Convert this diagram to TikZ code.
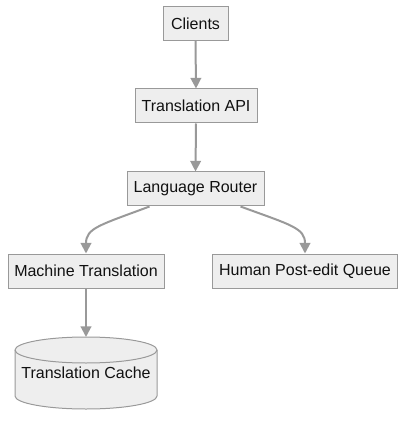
\documentclass[tikz,border=0pt]{standalone}
\usepackage{fontspec}
\setmainfont{Liberation Sans}
\usetikzlibrary{arrows.meta}
\definecolor{boxfill}{HTML}{EEEEEE}
\definecolor{boxline}{HTML}{999999}
\definecolor{edgecol}{HTML}{999999}
\definecolor{txt}{HTML}{111111}
\begin{document}
\begin{tikzpicture}[x=0.75pt,y=-0.75pt,
  box/.style={draw=boxline,fill=boxfill,line width=0.75pt,inner sep=0pt,
    minimum height=25.5pt,font=\fontsize{12}{14}\selectfont,text=txt},
  edge/.style={draw=edgecol,line width=1.5pt,
    -{Triangle[length=8pt,width=8pt]}}]
\useasboundingbox (0,0) rectangle (413,427);
\node[box,minimum width=48.75pt] (clients) at (195.5,23.5) {Clients};
\node[box,minimum width=91.5pt] (api) at (196,106) {Translation API};
\node[box,minimum width=102.75pt] (router) at (195.5,189) {Language Router};
\node[box,minimum width=117pt] (mt) at (86,271) {Machine Translation};
\node[box,minimum width=138.75pt] (human) at (305,271) {Human Post-edit Queue};
% cylinder
\draw[draw=boxline,fill=boxfill,line width=0.75pt]
  (15,350) -- (15,396) arc[start angle=180,end angle=0,x radius=71,y radius=13]
  -- (157,350) arc[start angle=0,end angle=-180,x radius=71,y radius=13] -- cycle;
\draw[draw=boxline,line width=0.75pt]
  (15,350) arc[start angle=180,end angle=0,x radius=71,y radius=13];
\node[font=\fontsize{12}{14}\selectfont,text=txt] (cache) at (86,373) {Translation Cache};
\coordinate (cachetop) at (86,337);
\draw[edge] (clients.south) -- (api.north);
\draw[edge] (api.south) -- (router.north);
\draw[edge] (router.south west) ++(23,0) coordinate (r1) .. controls (100,225) and (86,228) .. (mt.north);
\draw[edge] (router.south east) ++(-24,0) coordinate (r2) .. controls (291,225) and (305,228) .. (human.north);
\draw[edge] (mt.south) -- (cachetop);
\end{tikzpicture}
\end{document}
